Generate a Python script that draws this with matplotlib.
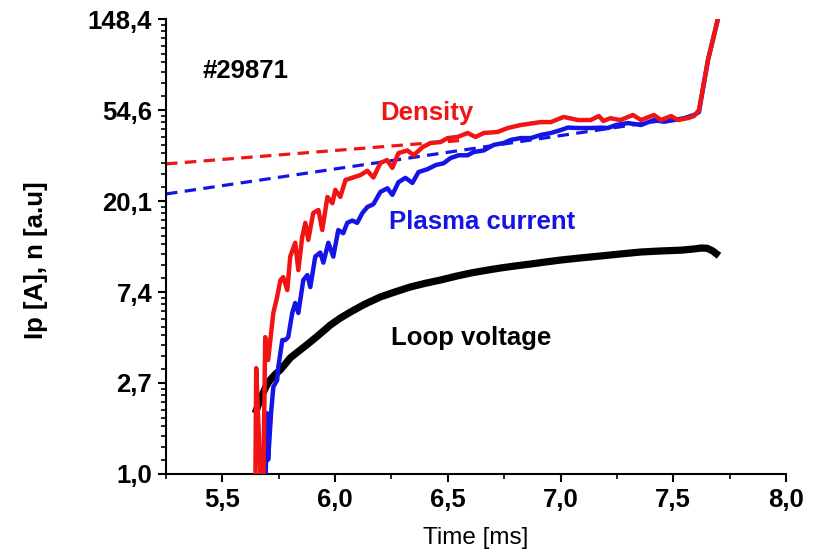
'''
Plasma current, density and loop voltage for shot #29871 (log-e scale)
'''
import numpy as np
import matplotlib
matplotlib.use('Agg')
import matplotlib.pyplot as plt
from matplotlib.ticker import FixedLocator, MultipleLocator, FixedFormatter

plt.rcParams['font.family'] = ['Liberation Sans', 'DejaVu Sans']

# Density (red), time [ms] / value [a.u.]
density_t = [5.646, 5.650, 5.659, 5.672, 5.681, 5.690, 5.703, 5.726, 5.743, 5.757,
             5.770, 5.788, 5.801, 5.823, 5.837, 5.854, 5.868, 5.881, 5.903, 5.926,
             5.943, 5.966, 5.988, 6.001, 6.023, 6.046, 6.112, 6.143, 6.170, 6.201,
             6.230, 6.254, 6.281, 6.321, 6.348, 6.388, 6.423, 6.468, 6.499, 6.543,
             6.588, 6.623, 6.659, 6.721, 6.766, 6.823, 6.912, 6.957, 7.014, 7.077,
             7.134, 7.170, 7.190, 7.221, 7.266, 7.321, 7.357, 7.414, 7.446, 7.490,
             7.521, 7.566, 7.592, 7.614, 7.654, 7.699]
density_v = [0.80, 3.20, 1.81, 0.80, 0.80, 4.50, 3.50, 5.87, 7.00, 8.40,
             8.70, 7.55, 10.9, 12.7, 9.40, 13.5, 15.8, 13.1, 17.6, 18.2,
             14.6, 21.0, 19.6, 22.7, 21.0, 25.3, 26.7, 28.0, 26.0, 30.5,
             31.5, 28.9, 34.0, 35.0, 33.2, 36.3, 38.0, 38.4, 40.1, 40.6,
             42.4, 40.6, 42.4, 42.9, 44.8, 46.3, 47.8, 47.8, 50.6, 48.9,
             48.9, 51.1, 48.4, 49.9, 48.9, 51.7, 48.9, 51.7, 48.9, 51.1,
             48.9, 50.0, 51.1, 54.6, 94.6, 150.0]

# Plasma current (blue)
current_t = [5.677, 5.690, 5.699, 5.703, 5.716, 5.726, 5.743, 5.748, 5.766, 5.779,
             5.792, 5.810, 5.823, 5.837, 5.859, 5.877, 5.890, 5.912, 5.934, 5.948,
             5.970, 5.992, 6.014, 6.036, 6.054, 6.076, 6.098, 6.121, 6.143, 6.170,
             6.201, 6.232, 6.254, 6.281, 6.312, 6.343, 6.370, 6.410, 6.446, 6.481,
             6.512, 6.548, 6.588, 6.614, 6.659, 6.703, 6.748, 6.779, 6.823, 6.868,
             6.912, 6.957, 7.001, 7.032, 7.077, 7.134, 7.179, 7.210, 7.246, 7.299,
             7.357, 7.414, 7.459, 7.503, 7.548, 7.592, 7.614, 7.654, 7.699]
current_v = [0.80, 0.80, 1.95, 1.17, 1.95, 2.60, 2.81, 3.24, 4.36, 4.36,
             4.50, 5.87, 6.55, 5.87, 8.43, 8.90, 7.80, 10.9, 11.4, 10.2,
             12.7, 10.9, 14.6, 14.1, 15.8, 16.2, 15.8, 17.6, 18.8, 19.4,
             22.2, 23.1, 21.5, 24.7, 25.9, 24.5, 27.6, 28.5, 29.8, 30.4,
             32.2, 33.2, 33.2, 34.4, 35.0, 37.2, 38.0, 39.3, 40.1, 40.1,
             41.5, 42.4, 43.8, 45.0, 44.8, 44.8, 45.0, 44.8, 46.3, 47.3,
             46.3, 48.9, 48.0, 48.9, 49.9, 51.7, 53.4, 94.6, 150.0]

# Loop voltage (black)
voltage_t = [5.646, 5.660, 5.677, 5.692, 5.712, 5.733, 5.757, 5.780, 5.801, 5.823,
             5.846, 5.880, 5.912, 5.945, 5.979, 6.020, 6.068, 6.130, 6.201, 6.270,
             6.334, 6.400, 6.468, 6.535, 6.601, 6.668, 6.734, 6.800, 6.868, 6.935,
             7.001, 7.090, 7.179, 7.268, 7.357, 7.445, 7.534, 7.590, 7.623, 7.650,
             7.675, 7.703]
voltage_v = [1.95, 2.15, 2.38, 2.60, 2.81, 2.98, 3.14, 3.36, 3.58, 3.74,
             3.91, 4.18, 4.46, 4.78, 5.14, 5.52, 5.93, 6.45, 7.00, 7.42,
             7.81, 8.13, 8.43, 8.78, 9.10, 9.37, 9.62, 9.84, 10.05, 10.28,
             10.5, 10.75, 10.98, 11.23, 11.47, 11.60, 11.7, 11.85, 11.98, 11.95,
             11.6, 11.0]

# exponential fits (dashed)
density_fit_t = [5.25, 6.55]
density_fit_v = [30.2, 39.0]
current_fit_t = [5.25, 7.50]
current_fit_v = [21.7, 49.5]

ytick_values = [np.exp(k) for k in range(6)]
ytick_labels = ['1,0', '2,7', '7,4', '20,1', '54,6', '148,4']
xtick_values = [5.5, 6.0, 6.5, 7.0, 7.5, 8.0]
xtick_labels = ['5,5', '6,0', '6,5', '7,0', '7,5', '8,0']

RED = '#f01414'
BLUE = '#1414e6'
FS = 18.5

fig = plt.figure(figsize=(8.15, 5.56), dpi=100)
ax = fig.add_axes([0.2037, 0.1475, 0.7607, 0.8183])

ax.plot(density_fit_t, density_fit_v, color=RED, lw=2.3, dashes=(3.6, 2.3), zorder=1)
ax.plot(current_fit_t, current_fit_v, color=BLUE, lw=2.3, dashes=(3.6, 2.3), zorder=1)
ax.plot(voltage_t, voltage_v, color='black', lw=5.2, solid_capstyle='butt', zorder=2)
ax.plot(current_t, current_v, color=BLUE, lw=3.2, zorder=3)
ax.plot(density_t, density_v, color=RED, lw=3.2, zorder=4)

ax.set_yscale('log', base=np.e)
ax.set_xlim(5.25, 8.0)
ax.set_ylim(1.0, np.exp(5))

ax.yaxis.set_major_locator(FixedLocator(ytick_values))
ax.yaxis.set_major_formatter(FixedFormatter(ytick_labels))
minor_y = []
for k in range(5):
    lo, hi = np.exp(k), np.exp(k + 1)
    minor_y += [lo + i * (hi - lo) / 10 for i in range(1, 10)]
ax.yaxis.set_minor_locator(FixedLocator(minor_y))
ax.yaxis.set_minor_formatter(FixedFormatter([''] * len(minor_y)))

ax.xaxis.set_major_locator(FixedLocator(xtick_values))
ax.xaxis.set_major_formatter(FixedFormatter(xtick_labels))
ax.xaxis.set_minor_locator(MultipleLocator(0.25))

for side in ['top', 'right']:
    ax.spines[side].set_visible(False)
for side in ['left', 'bottom']:
    ax.spines[side].set_linewidth(1.5)

ax.tick_params(which='major', direction='out', length=6, width=1.5,
               labelsize=FS, pad=4)
ax.tick_params(which='minor', direction='out', length=3.5, width=1.2)
for lbl in ax.get_xticklabels() + ax.get_yticklabels():
    lbl.set_fontweight('bold')

ax.set_xlabel('Time [ms]', fontsize=17.5, labelpad=11)
ax.set_ylabel('Ip [A], n [a.u]', fontsize=FS, fontweight='bold')
ax.yaxis.set_label_coords(-0.19, 0.47)

# annotations
ax.text(5.414, 77.6, '#29871', fontsize=FS, fontweight='bold', color='black',
        ha='left', va='baseline')
ax.text(6.201, 48.9, 'Density', fontsize=FS, fontweight='bold', color=RED,
        ha='left', va='baseline')
ax.text(6.241, 14.8, 'Plasma current', fontsize=FS, fontweight='bold', color=BLUE,
        ha='left', va='baseline')
ax.text(6.246, 4.13, 'Loop voltage', fontsize=FS, fontweight='bold', color='black',
        ha='left', va='baseline')

fig.savefig('out.png', dpi=100)
